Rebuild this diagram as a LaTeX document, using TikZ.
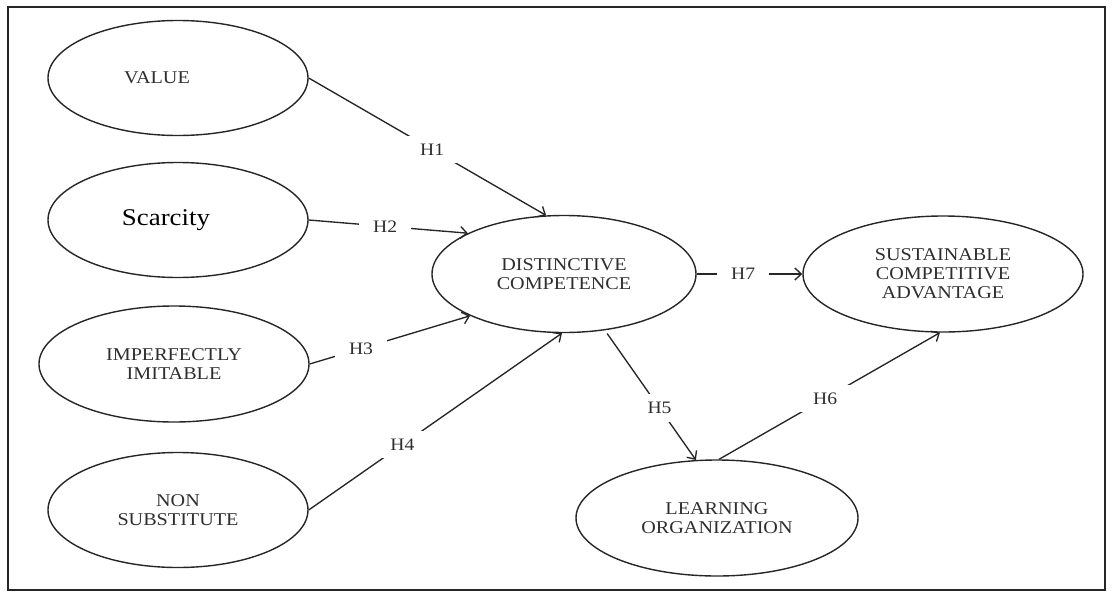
\documentclass[tikz,border=0pt]{standalone}
\usepackage{fontspec}
\setmainfont{Liberation Serif}[FakeStretch=1.12]
\usetikzlibrary{shapes.geometric,arrows.meta}
\begin{document}
\begin{tikzpicture}[x=1pt,y=-1pt,
  ell/.style={draw=black!85, line width=1.4pt, ellipse, inner sep=0pt, text=black!82,
    font=\fontsize{18}{19}\selectfont},
  multi/.style={align=center},
  conn/.style={draw=black!85, line width=1.35pt,
    -{Straight Barb[length=6.5pt,width=12pt,line width=1.35pt]}},
  lab/.style={fill=white, text=black!82, font=\fontsize{17.5}{19}\selectfont,
    inner xsep=14pt, inner ysep=8pt}]
\useasboundingbox (0,0) rectangle (1112,592);
\draw[line width=2.5pt, black!85] (8,7) rectangle (1105,590);

\node[ell, minimum width=260pt, minimum height=115pt] (value) at (178,78) {\hspace*{-42pt}VALUE};
\node[ell, minimum width=260pt, minimum height=115pt, font=\fontsize{24}{26}\selectfont, text=black] (scar) at (178,220) {\hspace*{-24pt}Scarcity};
\node[ell, multi, minimum width=270pt, minimum height=116pt] (imp) at (174,364) {IMPERFECTLY\\IMITABLE};
\node[ell, multi, minimum width=260pt, minimum height=115pt] (non) at (178,510) {NON\\SUBSTITUTE};
\node[ell, multi, minimum width=264pt, minimum height=117pt] (dc) at (564,274) {DISTINCTIVE\\COMPETENCE};
\node[ell, multi, minimum width=280pt, minimum height=116pt] (sca) at (943,274) {SUSTAINABLE\\COMPETITIVE\\ADVANTAGE};
\node[ell, multi, minimum width=282pt, minimum height=116pt] (lo) at (717,518) {LEARNING\\ORGANIZATION};

\draw[conn] (value.east) -- node[lab, pos=0.52] (h1) {H1} (dc.107);
\draw[conn] (scar.east) -- node[lab, pos=0.48] (h2) {H2} (dc.157);
\draw[conn] (imp.east) -- node[lab, pos=0.32] (h3) {H3} (dc.204);
\draw[conn] (non.east) -- node[lab, pos=0.37] (h4) {H4} (dc.268);
\draw[conn, shorten <=4pt] (dc.306) -- node[lab, pos=0.6] (h5) {H5} (lo.110);
\draw[conn] (lo.88) -- node[lab, pos=0.48] (h6) {H6} (sca.267);
\draw[conn] (dc.east) -- node[lab, pos=0.44] (h7) {H7} (sca.west);
\end{tikzpicture}
\end{document}
